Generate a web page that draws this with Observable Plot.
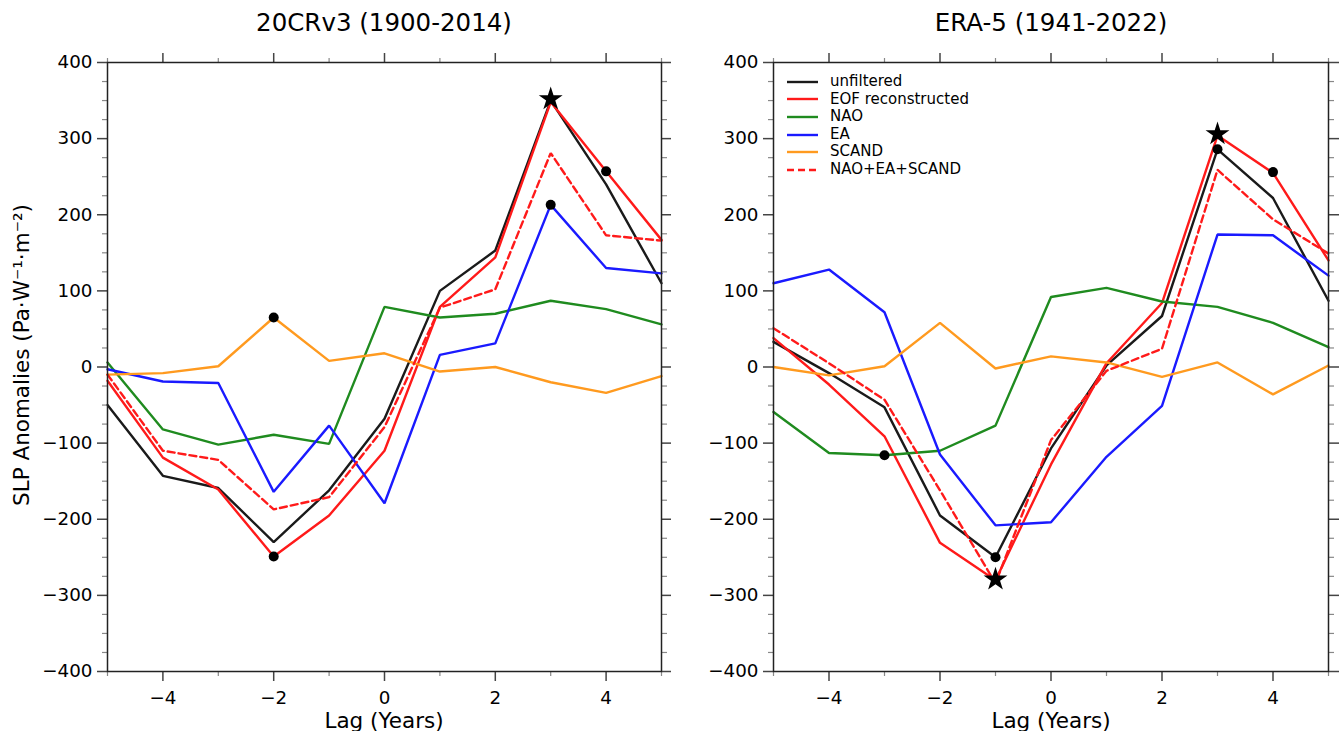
<!DOCTYPE html>
<html><head><meta charset="utf-8">
<script src="https://cdn.jsdelivr.net/npm/d3@7"></script>
<script src="https://cdn.jsdelivr.net/npm/@observablehq/plot@0.6"></script>
<style>
body{margin:0;background:#fff;font-family:"DejaVu Sans",sans-serif;}
#wrap{position:relative;width:1342px;height:731px;overflow:hidden;background:#fff}
.panel{position:absolute;top:0}
.txt{position:absolute;white-space:nowrap;color:#000;transform:translate(-50%,-50%)}
.leg{position:absolute;left:786px;top:73px;font-size:15px;line-height:17.6px}
.leg div{display:flex;align-items:center;height:17.6px}
.leg svg{margin-right:10px}
</style></head><body><div id="wrap"></div>
<script>
const lags = [-5,-4,-3,-2,-1,0,1,2,3,4,5];

// 20CRv3 (1900-2014)
const left_unfiltered = [-50,-143,-159,-230,-162,-68,100,153,350,240,110];
const left_eof        = [-18,-119,-161,-249,-195,-110,79,144,348,257,167];
const left_nao        = [6,-82,-102,-89,-101,79,65,70,87,76,56];
const left_ea         = [-3,-19,-21,-164,-77,-179,16,31,213,130,123];
const left_scand      = [-10,-8,1,65,8,18,-6,0,-20,-34,-12];
const left_sum        = [-10,-110,-122,-187,-171,-79,78,102,281,173,166];
const left_stars = [{lag:3, value:352}];
const left_dots  = [{lag:-2, value:65},{lag:-2, value:-249},{lag:3, value:213},{lag:4, value:257}];

// ERA-5 (1941-2022)
const right_unfiltered = [33,-8,-53,-195,-250,-107,2,67,286,222,87];
const right_eof        = [38,-23,-91,-231,-280,-128,5,84,304,255,140];
const right_nao        = [-59,-113,-116,-110,-77,92,104,86,79,58,26];
const right_ea         = [110,128,72,-115,-208,-204,-118,-51,174,173,120];
const right_scand      = [0,-11,1,58,-2,14,6,-13,6,-36,2];
const right_sum        = [51,5,-43,-162,-284,-96,-5,24,259,194,149];
const right_stars = [{lag:3, value:306},{lag:-1, value:-279}];
const right_dots  = [{lag:3, value:286},{lag:4, value:256},{lag:-3, value:-116},{lag:-1, value:-250}];

const seriesNames = ["unfiltered","EOF reconstructed","NAO","EA","SCAND","NAO+EA+SCAND"];
const seriesColors = ["#1a1a1a","#ff1a1a","#1f8b1f","#1a1aff","#ff9a1f","#ff1a1a"];
const seriesDash = [null,null,null,null,null,"7,4"];

const yMajor = d3.range(-400, 401, 100);
const yMinor = d3.range(-400, 401, 25).filter(v => v % 100 !== 0);
const xMajor = [-4,-2,0,2,4];
const xMinor = [-5,-3,-1,1,3,5];

function toRows(vals){ return lags.map((l,i)=>({lag:l, value:vals[i]})); }

function panel(seriesVals, stars, dots, ml, mr){
  const lineMarks = seriesVals.map((vals,i)=>Plot.line(toRows(vals), {
    x:"lag", y:"value", stroke:seriesColors[i], strokeWidth:2.4,
    strokeDasharray: seriesDash[i] || undefined, strokeLinejoin:"miter"
  }));
  const tickStroke = "#444";
  const blank = () => "";
  return Plot.plot({
    width:671, height:731,
    marginLeft:ml, marginRight:mr, marginTop:62, marginBottom:60,
    x:{domain:[-5,5]},
    y:{domain:[-400,400]},
    style:{fontFamily:"DejaVu Sans, sans-serif", background:"transparent"},
    marks:[
      ...lineMarks,
      Plot.dot(dots, {x:"lag", y:"value", r:5, fill:"black", stroke:"none"}),
      Plot.dot(stars, {x:"lag", y:"value", r:7.5, symbol:"star", fill:"black", stroke:"none"}),
      Plot.axisY(yMajor, {anchor:"left", tickSize:10, tickPadding:5, fontSize:18.3, label:null, stroke:tickStroke, strokeWidth:1.5, color:"#000"}),
      Plot.axisY(yMinor, {anchor:"left", tickSize:5, tickFormat:blank, label:null, stroke:"#888", strokeWidth:1.2}),
      Plot.axisY(yMajor, {anchor:"right", tickSize:10, tickFormat:blank, label:null, stroke:tickStroke, strokeWidth:1.5}),
      Plot.axisY(yMinor, {anchor:"right", tickSize:5, tickFormat:blank, label:null, stroke:"#888", strokeWidth:1.2}),
      Plot.axisX(xMajor, {anchor:"bottom", tickSize:10, tickPadding:9, fontSize:18.3, label:null, stroke:tickStroke, strokeWidth:1.5, color:"#000"}),
      Plot.axisX(xMinor, {anchor:"bottom", tickSize:5, tickFormat:blank, label:null, stroke:"#888", strokeWidth:1.2}),
      Plot.axisX(xMajor, {anchor:"top", tickSize:10, tickFormat:blank, label:null, stroke:tickStroke, strokeWidth:1.5}),
      Plot.axisX(xMinor, {anchor:"top", tickSize:5, tickFormat:blank, label:null, stroke:"#888", strokeWidth:1.2}),
      Plot.frame({stroke:"#222", strokeWidth:1.5})
    ]
  });
}

const wrap = document.getElementById("wrap");
const p1 = panel([left_unfiltered,left_eof,left_nao,left_ea,left_scand,left_sum], left_stars, left_dots, 107, 10);
p1.classList.add("panel"); p1.style.left = "0px";
wrap.appendChild(p1);
const p2 = panel([right_unfiltered,right_eof,right_nao,right_ea,right_scand,right_sum], right_stars, right_dots, 102, 14);
p2.classList.add("panel"); p2.style.left = "671px";
wrap.appendChild(p2);

function addText(t, x, y, size, rot){
  const d = document.createElement("div");
  d.className = "txt"; d.textContent = t;
  d.style.left = x+"px"; d.style.top = y+"px"; d.style.fontSize = size+"px";
  if (rot) d.style.transform = "translate(-50%,-50%) rotate(-90deg)";
  wrap.appendChild(d);
}
addText("20CRv3 (1900-2014)", 384, 22, 24.5);
addText("ERA-5 (1941-2022)", 1051, 22, 24.5);
addText("Lag (Years)", 384, 720, 21.5);
addText("Lag (Years)", 1051, 720, 21.5);
addText("SLP Anomalies (Pa·W⁻¹·m⁻²)", 21, 355, 21.5, true);

const leg = document.createElement("div");
leg.className = "leg";
seriesNames.forEach((n,i)=>{
  const row = document.createElement("div");
  row.innerHTML = `<svg width="34" height="6"><line x1="1" y1="3" x2="32" y2="3" stroke="${seriesColors[i]}" stroke-width="2.4" ${seriesDash[i]?`stroke-dasharray="${seriesDash[i]}"`:""}/></svg><span>${n}</span>`;
  leg.appendChild(row);
});
wrap.appendChild(leg);
</script>
</body></html>
